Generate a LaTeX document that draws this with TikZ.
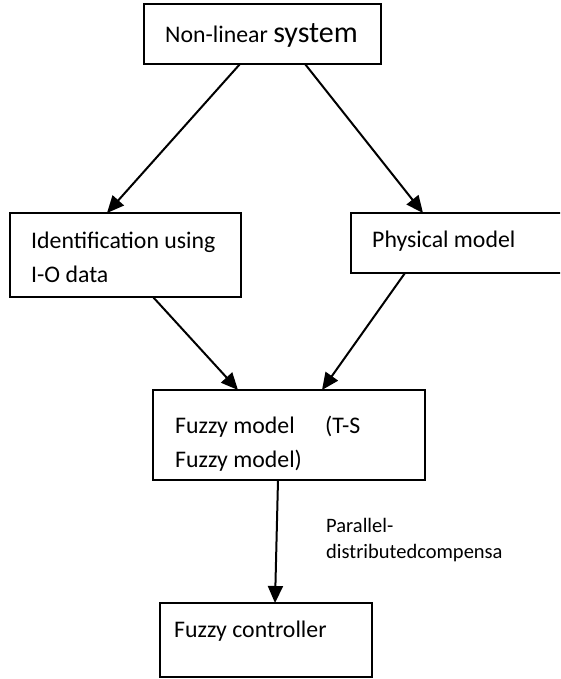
\documentclass[tikz,border=0pt]{standalone}
\usepackage{fontspec}
\setmainfont{Carlito}
\usetikzlibrary{arrows.meta,calc}
\begin{document}
\begin{tikzpicture}[x=1pt,y=-1pt,
  box/.style={draw,line width=1.8pt,rectangle,anchor=north west,inner sep=0pt,outer sep=0pt},
  txt/.style={anchor=base west,inner sep=0pt,font=\fontsize{23.8}{28}\selectfont},
  lbl/.style={anchor=base west,inner sep=0pt,font=\fontsize{20.5}{24}\selectfont},
  arr/.style={line width=2pt,-{Triangle[length=17pt,width=15pt]}}]
\useasboundingbox (0,0) rectangle (560,679);
\clip (0,0) rectangle (560,679);
\node[box,minimum width=237pt,minimum height=60pt] (b1) at (144,4) {};
\node[box,minimum width=231pt,minimum height=84pt] (b2) at (10,213) {};
\node[box,minimum width=215pt,minimum height=60pt] (b3) at (351,213) {};
\node[box,minimum width=272pt,minimum height=90pt] (b4) at (153,390) {};
\node[box,minimum width=212pt,minimum height=74pt] (b5) at (160,603) {};
\node[txt] (t1) at (165,43) {Non-linear \fontsize{30}{32}\selectfont system};
\node[txt] (t2a) at (31,248) {Identification using};
\node[txt] (t2b) at (31,282) {I-O data};
\node[txt] (t3) at (372,247) {Physical model};
\node[txt] (t4a) at (175,433) {Fuzzy model};
\node[txt] (t4c) at (325,433) {(T-S};
\node[txt] (t4b) at (175,467) {Fuzzy model)};
\node[txt] (t5) at (174,637) {Fuzzy controller};
\node[lbl] (l1) at (326,532) {Parallel-};
\node[lbl] (l2) at (326,558) {distributedcompensa};
\draw[arr] ($(b1.south west)+(96,0)$) -- ($(b2.north west)+(97,0)$);
\draw[arr] ($(b1.south west)+(161,0)$) -- ($(b3.north west)+(72,0)$);
\draw[arr] ($(b2.south west)+(143,0)$) -- ($(b4.north west)+(85,0)$);
\draw[arr] ($(b3.south west)+(54,0)$) -- ($(b4.north west)+(169,0)$);
\draw[arr] ($(b4.south west)+(125,0)$) -- ($(b5.north west)+(115,0)$);
\end{tikzpicture}
\end{document}
